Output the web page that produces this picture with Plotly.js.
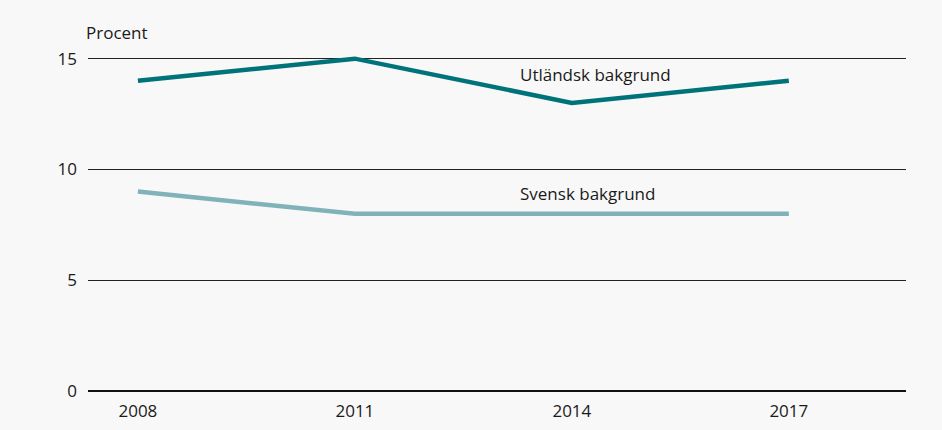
<!DOCTYPE html>
<html><head><meta charset="utf-8">
<script src="https://cdn.plot.ly/plotly-3.0.1.min.js"></script>
<style>html,body{margin:0;padding:0;background:#f8f8f8;}</style>
</head><body>
<div id="chart" style="width:942px;height:430px;"></div>
<script>
const years = [2008, 2011, 2014, 2017];
const utlandsk = [14, 15, 13, 14];
const svensk = [9, 8, 8, 8];
const yTicks = [0, 5, 10, 15];
const seriesNames = ["Utländsk bakgrund", "Svensk bakgrund"];

const font = {family: "Open Sans, sans-serif", size: 17, color: "#1a1a1a"};
const data = [
  {x: years, y: utlandsk, mode: "lines", name: seriesNames[0], line: {color: "#00737a", width: 4.5}},
  {x: years, y: svensk, mode: "lines", name: seriesNames[1], line: {color: "#80b3b9", width: 4.5}}
];
const layout = {
  width: 942, height: 430,
  paper_bgcolor: "#f8f8f8", plot_bgcolor: "#f8f8f8",
  margin: {l: 88, r: 36, t: 52, b: 39},
  showlegend: false,
  font: font,
  xaxis: {range: [2007.31, 2018.62], tickvals: years, ticktext: years.map(String), showgrid: false, zeroline: false, showline: false, ticks: "", tickfont: font, ticklabelstandoff: 8},
  yaxis: {range: [0, 15.3], tickvals: yTicks, showgrid: true, gridcolor: "#222", gridwidth: 1, zeroline: true, zerolinecolor: "#111", zerolinewidth: 2, showline: false, ticks: "", tickfont: font, ticklabelstandoff: 10, fixedrange: true},
  annotations: [
    {xref: "paper", yref: "paper", x: -0.005, y: 1.0, yshift: 20, xanchor: "left", yanchor: "middle", text: "Procent", showarrow: false, font: font},
    {xref: "x", yref: "y", x: 2014.32, y: 14.27, xanchor: "center", yanchor: "middle", text: seriesNames[0], showarrow: false, font: font},
    {xref: "x", yref: "y", x: 2014.22, y: 8.9, xanchor: "center", yanchor: "middle", text: seriesNames[1], showarrow: false, font: font}
  ]
};
Plotly.newPlot("chart", data, layout, {displayModeBar: false, staticPlot: true});
</script>
</body></html>
